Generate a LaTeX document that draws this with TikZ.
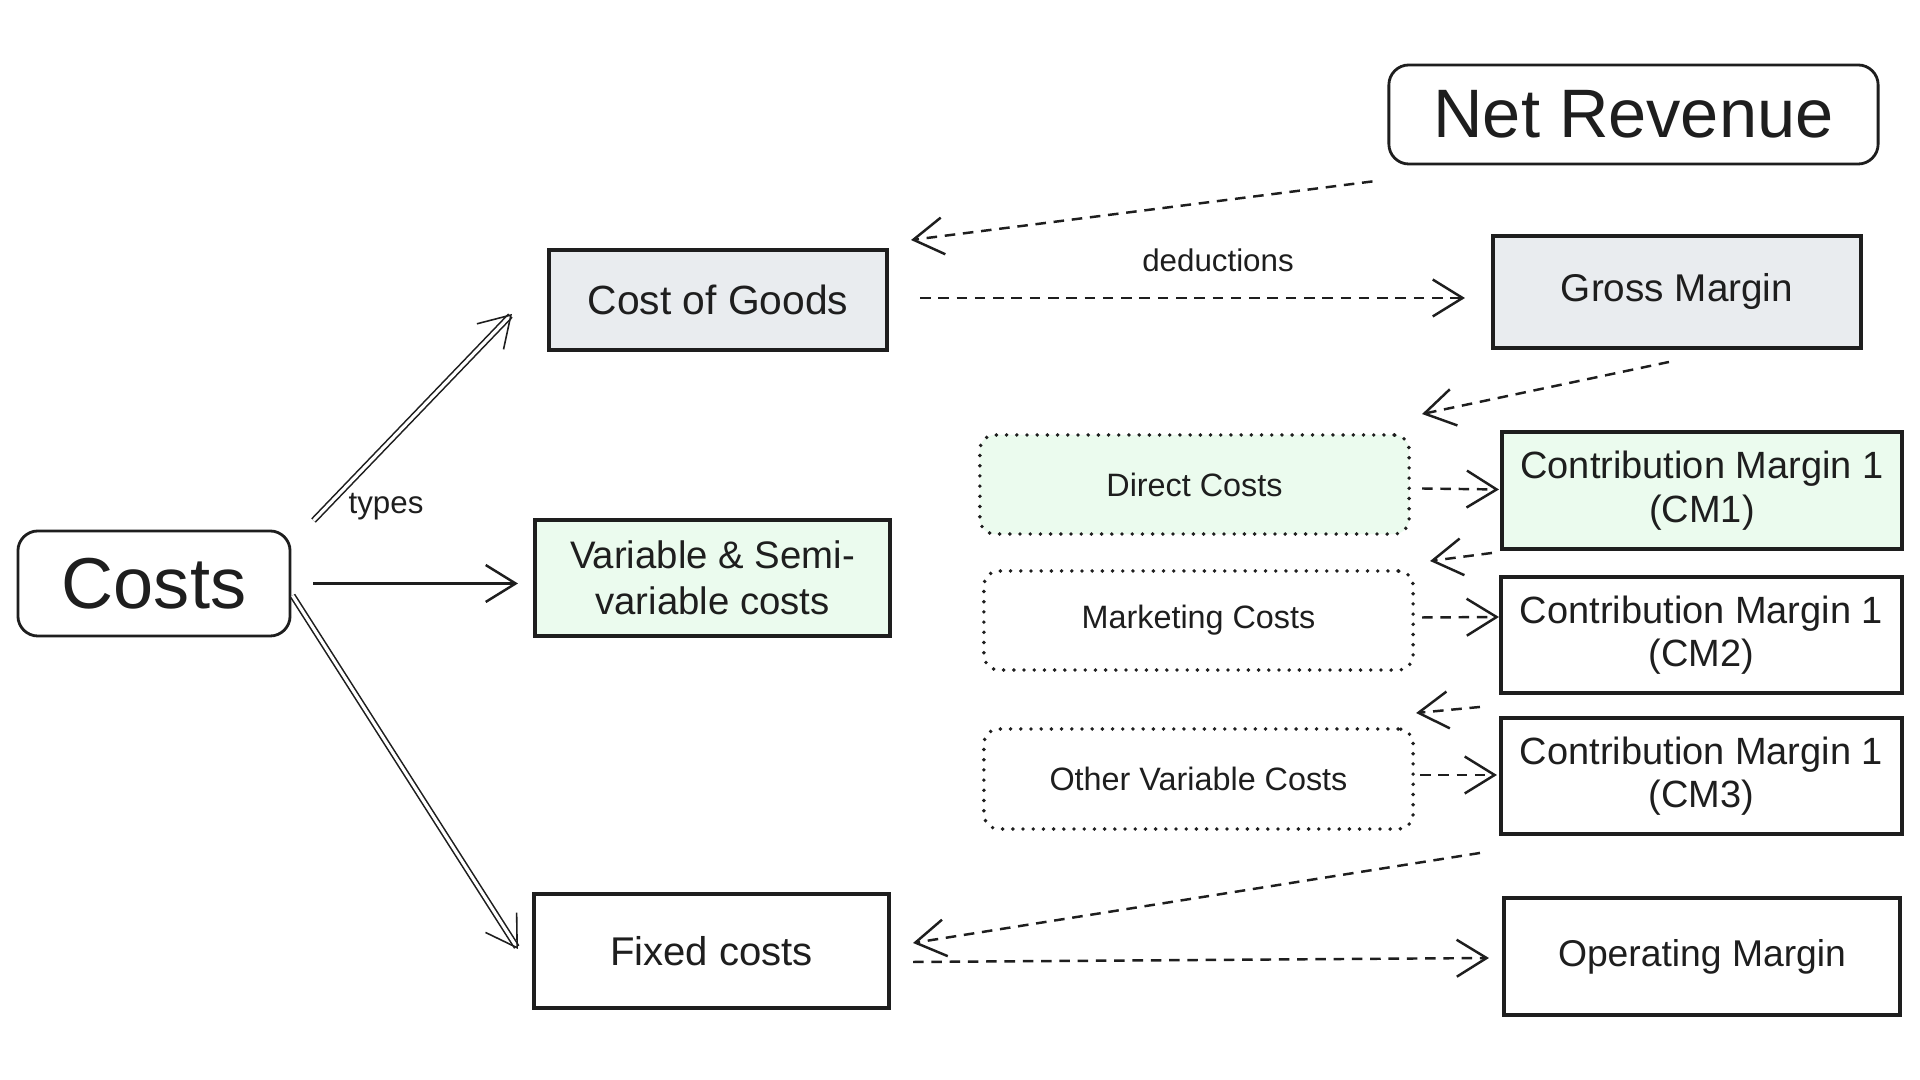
\documentclass[tikz,border=0pt]{standalone}
\usepackage{fontspec}
\setmainfont{Liberation Sans}
\usetikzlibrary{arrows.meta,calc}
\definecolor{ink}{HTML}{1E1E1E}
\definecolor{grayfill}{HTML}{E9ECEF}
\definecolor{greenfill}{HTML}{EBFBEE}
\tikzset{
  base/.style={draw=ink, text=ink, inner sep=0pt, align=center},
  sqbox/.style={base, rectangle, line width=1.1pt},
  rbox/.style={base, rounded corners=0.2cm, line width=0.8pt},
  dotbox/.style={base, rounded corners=0.15cm, line width=1.1pt, dash pattern=on 0pt off 2.9pt, line cap=round},
  arr/.style={draw=ink, line width=0.7pt, -{Straight Barb[length=8.5pt,width=10.5pt]}},
  darr/.style={arr, dash pattern=on 3pt off 2.2pt},
  dblarr/.style={draw=ink, line width=0.45pt, double=white, double distance=0.9pt, -{Straight Barb[length=8.5pt,width=10.5pt]}},
  fbig/.style={font=\fontsize{20}{24}\selectfont},
  fmed/.style={font=\fontsize{11}{12.8}\selectfont},
  fsmall/.style={font=\fontsize{9.2}{11}\selectfont},
  lbl/.style={text=ink, inner sep=1pt, font=\fontsize{8.9}{10}\selectfont}
}
\begin{document}
\begin{tikzpicture}[x=0.01cm, y=-0.01cm]
\useasboundingbox (0,0) rectangle (1920,1080);
\fill[white] (0,0) rectangle (1920,1080);

% nodes
\node[rbox, fbig, font=\fontsize{20.5}{24}\selectfont, minimum width=2.72cm, minimum height=1.05cm] (costs) at (154,583.5) {Costs};
\node[rbox, fbig, font=\fontsize{19.5}{24}\selectfont, minimum width=4.89cm, minimum height=0.99cm] (netrev) at (1633.5,114.5) {Net Revenue};
\node[sqbox, fill=grayfill, font=\fontsize{11.6}{13}\selectfont, minimum width=3.38cm, minimum height=1.0cm] (cog) at (718,300) {Cost of Goods};
\node[sqbox, fill=grayfill, fmed, minimum width=3.68cm, minimum height=1.12cm] (gm) at (1677,292) {Gross Margin};
\node[sqbox, fill=greenfill, font=\fontsize{10.9}{13}\selectfont, minimum width=3.55cm, minimum height=1.16cm] (var) at (712.5,578) {Variable \& Semi-\\variable costs};
\node[sqbox, font=\fontsize{11.4}{13}\selectfont, minimum width=3.55cm, minimum height=1.14cm] (fixed) at (711.5,951) {Fixed costs};
\node[sqbox, font=\fontsize{10.6}{13}\selectfont, minimum width=3.96cm, minimum height=1.17cm] (opm) at (1702,956.5) {Operating Margin};
\node[dotbox, fill=greenfill, fsmall, minimum width=4.29cm, minimum height=0.99cm] (direct) at (1194.5,484.5) {Direct Costs};
\node[dotbox, fsmall, minimum width=4.29cm, minimum height=0.99cm] (mkt) at (1198.5,620.5) {Marketing Costs};
\node[dotbox, fsmall, minimum width=4.29cm, minimum height=1.0cm] (other) at (1198.5,779) {Other Variable Costs};
\node[sqbox, fill=greenfill, font=\fontsize{10.8}{12.4}\selectfont, minimum width=4.0cm, minimum height=1.17cm] (cm1) at (1702,490.5) {Contribution Margin 1\\(CM1)};
\node[sqbox, font=\fontsize{10.8}{12.4}\selectfont, minimum width=4.01cm, minimum height=1.16cm] (cm2) at (1701.5,635) {Contribution Margin 1\\(CM2)};
\node[sqbox, font=\fontsize{10.8}{12.4}\selectfont, minimum width=4.01cm, minimum height=1.16cm] (cm3) at (1701.5,776) {Contribution Margin 1\\(CM3)};

% labels
\node[lbl] (lbltypes) at (386,507) {types};
\node[lbl] (lblded) at (1218,260) {deductions};

% solid arrows from Costs
\draw[dblarr] ([shift={(22,-9)}]costs.north east) -- ([shift={(-35,-38)}]cog.south west);
\draw[arr] ([shift={(22,0)}]costs.east) -- ([xshift=-0.15cm]var.west |- costs.east);
\draw[dblarr] ([shift={(1,12)}]costs.east) -- ([shift={(-14,-2)}]fixed.west);

% dashed arrows
\draw[darr] ([shift={(-15,16)}]netrev.south west) -- ([shift={(22,-8)}]cog.north east);
\draw[darr] ([shift={(31,-2)}]cog.east) -- ([shift={(-26,6)}]gm.west);
\draw[darr] ([shift={(-8,12)}]gm.south) -- ([shift={(11,-19)}]direct.north east);
\draw[darr] ([shift={(11,4)}]direct.east) -- ([shift={(-1,-1)}]cm1.west);
\draw[darr] ([shift={(-8,2)}]cm1.south west) -- ([shift={(15,-8)}]mkt.north east);
\draw[darr] ([shift={(7,-3)}]mkt.east) -- ([shift={(0,-18)}]cm2.west);
\draw[darr] ([shift={(-19,12)}]cm2.south west) -- ([shift={(1,-14)}]other.north east);
\draw[darr] ([shift={(5,-4)}]other.east) -- ([shift={(-2,-1)}]cm3.west);
\draw[darr] ([shift={(-19,17)}]cm3.south west) -- ([shift={(22,-8)}]fixed.east);
\draw[darr] ([shift={(22,11)}]fixed.east) -- ([shift={(-13,1.5)}]opm.west);
\end{tikzpicture}
\end{document}
